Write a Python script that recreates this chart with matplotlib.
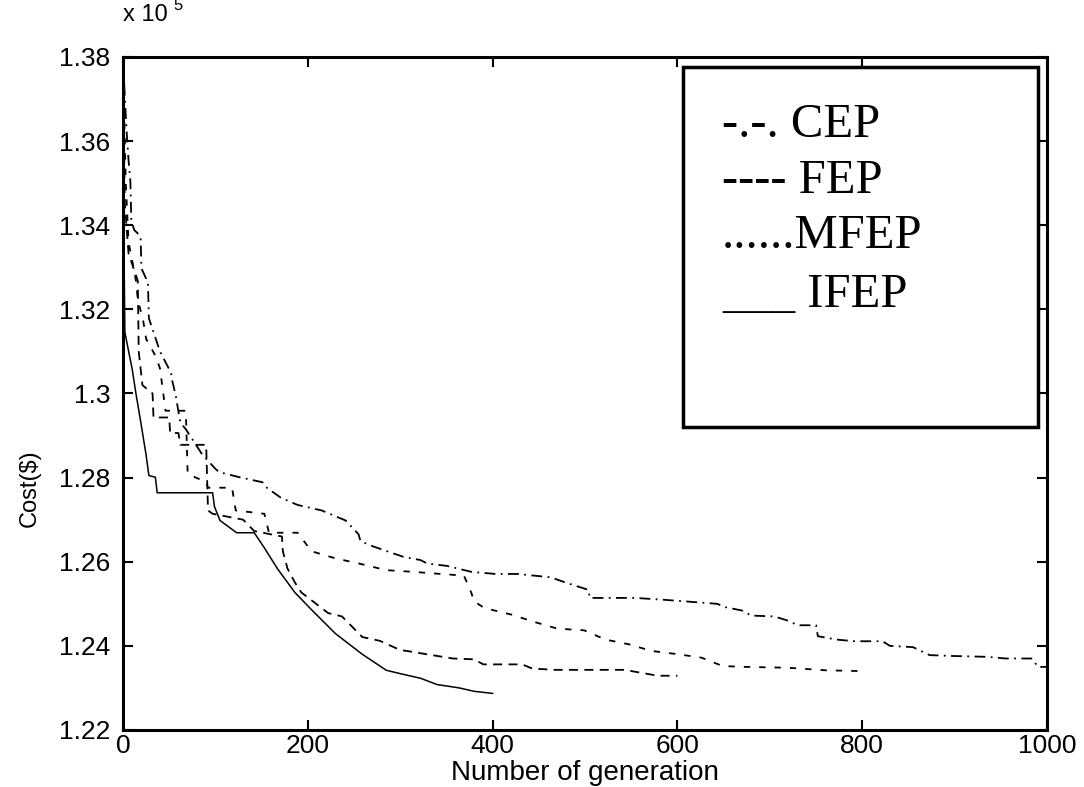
import matplotlib
matplotlib.use("Agg")
import matplotlib.pyplot as plt
from matplotlib.patches import Rectangle
from matplotlib.ticker import FuncFormatter

# best cost per generation (x 10^5 $)
ifep_gen = [0, 1, 2, 10, 14, 19, 25, 28, 35, 37, 97, 99, 105, 123, 142, 153, 167,
            186, 204, 230, 259, 285, 300, 322, 340, 364, 380, 400]
ifep_cost = [1.379, 1.335, 1.3146, 1.3057, 1.300, 1.2935, 1.2854, 1.2805, 1.2801,
             1.2764, 1.2764, 1.2731, 1.2698, 1.2669, 1.2669, 1.2633, 1.2584, 1.2527,
             1.2486, 1.2429, 1.238, 1.2342, 1.2334, 1.2323, 1.2308, 1.2300, 1.2292,
             1.2287]

fep_gen = [0, 2, 6, 16, 17, 21, 32, 33, 50, 51, 60, 62, 90, 92, 97, 130, 142, 172,
           173, 178, 186, 193, 222, 237, 259, 278, 300, 307, 329, 357, 380, 390, 411,
           432, 443, 468, 543, 558, 579, 600]
fep_cost = [1.379, 1.345, 1.3333, 1.3268, 1.310, 1.302, 1.300, 1.2943, 1.2943,
            1.2906, 1.2906, 1.2878, 1.2878, 1.2722, 1.2714, 1.2700, 1.2673, 1.2660,
            1.2625, 1.2584, 1.2551, 1.2527, 1.2478, 1.2470, 1.2421, 1.2412, 1.2390,
            1.2388, 1.2380, 1.2370, 1.2368, 1.2356, 1.2356, 1.2356, 1.2346, 1.2343,
            1.2343, 1.2337, 1.2329, 1.2329]

mfep_gen = [0, 3, 6, 12, 14, 16, 22, 25, 35, 40, 46, 55, 68, 70, 90, 92, 118, 122,
            153, 158, 189, 204, 230, 255, 285, 314, 344, 369, 377, 380, 391, 421, 445,
            470, 499, 522, 547, 572, 601, 626, 649, 674, 720, 760, 800]
mfep_cost = [1.379, 1.350, 1.336, 1.3293, 1.3268, 1.3224, 1.3171, 1.3130, 1.3090,
             1.3060, 1.2959, 1.2959, 1.2959, 1.2809, 1.2789, 1.2776, 1.2776, 1.2722,
             1.2714, 1.2669, 1.2669, 1.2625, 1.2608, 1.2596, 1.2580, 1.2576, 1.2571,
             1.2567, 1.2526, 1.2506, 1.2490, 1.2474, 1.2457, 1.2441, 1.2437, 1.2415,
             1.2404, 1.2388, 1.2380, 1.2372, 1.2352, 1.2350, 1.2348, 1.2342, 1.2340]

cep_gen = [0, 4, 6, 8, 9, 12, 19, 20, 27, 28, 40, 52, 53, 57, 62, 68, 86, 100, 104,
           126, 151, 153, 171, 189, 215, 241, 255, 257, 270, 303, 322, 329, 351, 377,
           403, 427, 463, 481, 504, 505, 554, 583, 619, 643, 652, 670, 680, 705, 721,
           730, 750, 752, 772, 792, 822, 830, 855, 873, 898, 935, 955, 984, 990, 1000]
cep_cost = [1.379, 1.362, 1.3555, 1.3503, 1.3413, 1.3389, 1.3374, 1.3297, 1.3264,
            1.3179, 1.3100, 1.3049, 1.3033, 1.2996, 1.2931, 1.2915, 1.2854, 1.2821,
            1.2813, 1.2801, 1.2789, 1.2780, 1.2752, 1.2735, 1.2722, 1.2698, 1.2665,
            1.2649, 1.2637, 1.2612, 1.2604, 1.2596, 1.2590, 1.2576, 1.2571, 1.2571,
            1.2563, 1.2549, 1.2533, 1.2514, 1.2514, 1.2510, 1.2504, 1.2500, 1.2492,
            1.2484, 1.2472, 1.2470, 1.2459, 1.2449, 1.2449, 1.2423, 1.2415, 1.2411,
            1.2411, 1.2400, 1.2397, 1.2378, 1.2376, 1.2374, 1.2370, 1.2370, 1.2350,
            1.2350]

x_ticks = [0, 200, 400, 600, 800, 1000]
y_ticks = [1.22, 1.24, 1.26, 1.28, 1.30, 1.32, 1.34, 1.36, 1.38]
legend_lines = ["-.-. CEP", "---- FEP", "......MFEP", "___ IFEP"]

W, H = 1084, 787
sans = ["Liberation Sans", "DejaVu Sans"]
serif = ["Liberation Serif", "DejaVu Serif"]

fig = plt.figure(figsize=(W / 100, H / 100), dpi=100)
ax = fig.add_axes([123 / W, 1 - 730 / H, (1047 - 123) / W, (730 - 57) / H])

lw = 1.3
ax.plot(cep_gen, cep_cost, color="black", lw=lw, dashes=(6, 3, 1, 3))
ax.plot(fep_gen, fep_cost, color="black", lw=lw, dashes=(5, 3.5))
ax.plot(mfep_gen, mfep_cost, color="black", lw=lw, dashes=(3.5, 5))
ax.plot(ifep_gen, ifep_cost, color="black", lw=1.1)

ax.set_xlim(0, 1000)
ax.set_ylim(1.22, 1.38)
ax.set_xticks(x_ticks)
ax.set_yticks(y_ticks)
ax.yaxis.set_major_formatter(FuncFormatter(lambda v, p: "%g" % round(v, 2)))
ax.tick_params(direction="in", length=7, width=1.5, top=True, right=True,
               labelsize=19)
ax.tick_params(axis="x", pad=3)
ax.tick_params(axis="y", pad=9)
for lab in ax.get_xticklabels() + ax.get_yticklabels():
    lab.set_family(sans)
for sp in ax.spines.values():
    sp.set_linewidth(2.2)

ax.set_xlabel("Number of generation", family=sans, fontsize=20, va="center")
ax.xaxis.set_label_coords(0.5, -(773 - 730) / 673)
ax.set_ylabel("Cost($)", family=sans, fontsize=17, va="center")
ax.yaxis.set_label_coords((30 - 123) / 924, (730 - 488) / 673)

# MATLAB style exponent above the y axis
ax.text(0.0, (730 - 15) / 673, "x 10", transform=ax.transAxes, family=sans,
        fontsize=17, va="center", ha="left")
ax.text((173 - 123) / 924, (730 - 6) / 673, "5", transform=ax.transAxes,
        family=sans, fontsize=12, va="center", ha="left")

# hand-made legend box
box = Rectangle((683 / W, 1 - 427 / H), 355 / W, 360 / H, transform=fig.transFigure,
                facecolor="white", edgecolor="black", lw=2.5, zorder=5)
fig.add_artist(box)
baselines = [137, 193, 248, 307]
for txt, yb in zip(legend_lines, baselines):
    fig.text(722 / W, 1 - yb / H, txt, family=serif, fontsize=35, va="baseline",
             ha="left", zorder=6)

fig.savefig("out.png", dpi=100)
